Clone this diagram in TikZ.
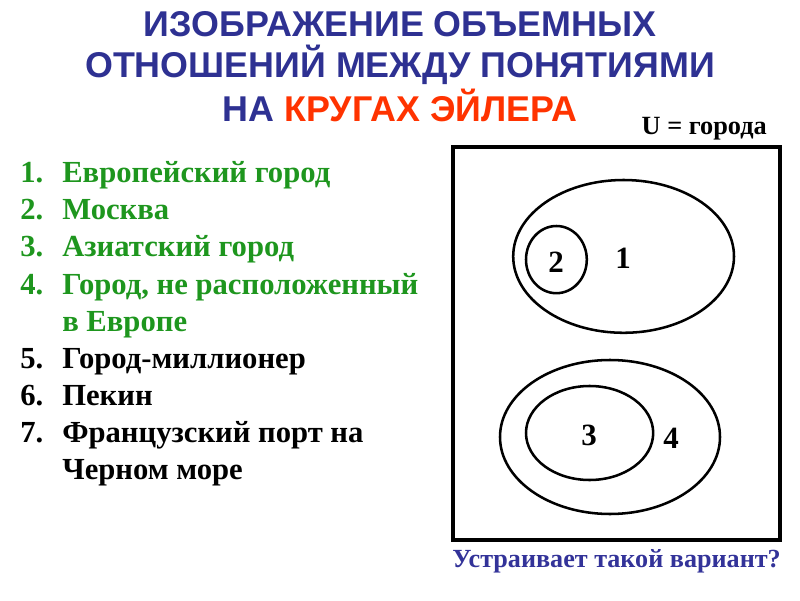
\documentclass[tikz,border=0pt]{standalone}
\usepackage{fontspec}
\setmainfont{Liberation Serif}
\newfontfamily\headfont{Liberation Sans}
\definecolor{headblue}{RGB}{46,49,146}
\definecolor{headred}{RGB}{255,51,0}
\definecolor{listgreen}{RGB}{30,150,30}
\definecolor{askblue}{RGB}{51,51,153}
\begin{document}
\begin{tikzpicture}[
    headline/.style={anchor=base, inner sep=0pt, headblue,
      font=\headfont\fontsize{25.5}{30}\selectfont\bfseries},
    item/.style={anchor=base west, inner sep=0pt,
      font=\fontsize{21.8}{26}\selectfont\bfseries},
    region/.style={inner sep=0pt, font=\fontsize{22}{26}\selectfont\bfseries},
    setline/.style={line width=1.8pt}]
  \useasboundingbox (0, 0) rectangle (20, 15);
  % title
  \node[headline] (head1) at (10, 14.075) {ИЗОБРАЖЕНИЕ ОБЪЕМНЫХ};
  \node[headline] (head2) at (10, 13.05) {ОТНОШЕНИЙ МЕЖДУ ПОНЯТИЯМИ};
  \node[headline] (head3) at (10, 11.95)
       {НА \textcolor{headred}{КРУГАХ ЭЙЛЕРА}};
  % list of concepts
  \node[item, listgreen] (num1) at (0.5, 10.425) {1.};
  \node[item, listgreen] (item1) at (1.55, 10.425) {Европейский город};
  \node[item, listgreen] (num2) at (0.5, 9.5) {2.};
  \node[item, listgreen] (item2) at (1.55, 9.5) {Москва};
  \node[item, listgreen] (num3) at (0.5, 8.575) {3.};
  \node[item, listgreen] (item3) at (1.55, 8.575) {Азиатский город};
  \node[item, listgreen] (num4) at (0.5, 7.65) {4.};
  \node[item, listgreen] (item4) at (1.55, 7.65) {Город, не расположенный};
  \node[item, listgreen] (item4b) at (1.55, 6.725) {в Европе};
  \node[item] (num5) at (0.5, 5.8) {5.};
  \node[item] (item5) at (1.55, 5.8) {Город-миллионер};
  \node[item] (num6) at (0.5, 4.875) {6.};
  \node[item] (item6) at (1.55, 4.875) {Пекин};
  \node[item] (num7) at (0.5, 3.95) {7.};
  \node[item] (item7) at (1.55, 3.95) {Французский порт на};
  \node[item] (item7b) at (1.55, 3.025) {Черном море};
  % universe
  \draw[line width=2.3pt] (11.325, 1.5) rectangle (19.5, 11.325);
  \node[anchor=base east, inner sep=0pt,
        font=\fontsize{18.7}{22}\selectfont\bfseries] (universe)
       at (19.175, 11.625) {U = города};
  % circles
  \draw[setline] (15.59, 8.59) ellipse [x radius=2.76, y radius=1.91];
  \draw[setline] (13.91, 8.51) ellipse [x radius=0.76, y radius=0.84];
  \draw[setline] (15.25, 4.075) ellipse [x radius=2.75, y radius=1.925];
  \draw[setline] (14.74, 4.175) ellipse [x radius=1.59, y radius=1.175];
  \node[region] (r1) at (15.575, 8.55) {1};
  \node[region] (r2) at (13.9, 8.45) {2};
  \node[region] (r3) at (14.725, 4.125) {3};
  \node[region] (r4) at (16.775, 4.05) {4};
  % question
  \node[anchor=base west, inner sep=0pt, askblue,
        font=\fontsize{18.6}{22}\selectfont\bfseries] (ask)
       at (11.3, 0.825) {Устраивает такой вариант?};
\end{tikzpicture}
\end{document}
